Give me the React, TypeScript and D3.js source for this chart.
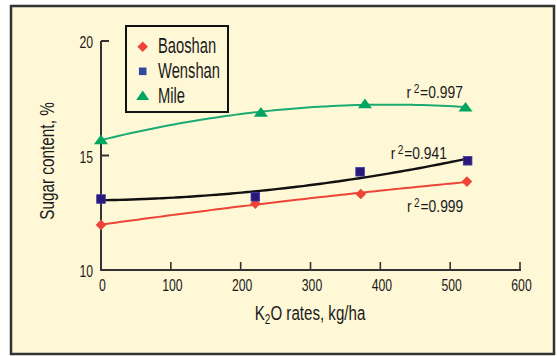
import React from 'react';
import * as d3 from 'd3';

// ---- Data ----
const baoshanRates = [0, 221, 372, 524];
const baoshanSugar = [11.97, 12.9, 13.32, 13.86];
const wenshanRates = [0, 221, 371, 525];
const wenshanSugar = [13.1, 13.2, 14.29, 14.77];
const mileRates = [0, 229, 378, 522];
const mileSugar = [15.68, 16.88, 17.25, 17.1];
const seriesNames = ['Baoshan', 'Wenshan', 'Mile'];
const r2Values = ['0.999', '0.941', '0.997'];
const xTicks = [0, 100, 200, 300, 400, 500, 600];
const yTicks = [10, 15, 20];

const W = 557;
const H = 356;
const BG = '#fef8d6';
const RED = '#ee4438';
const NAVY = '#2c1878';
const GREEN = '#00a562';
const FONT = '"Liberation Sans", Arial, sans-serif';

function quadFit(xs: number[], ys: number[]) {
  // least squares y = a + b x + c x^2
  const n = xs.length;
  let s0 = n, s1 = 0, s2 = 0, s3 = 0, s4 = 0, t0 = 0, t1 = 0, t2 = 0;
  for (let i = 0; i < n; i++) {
    const x = xs[i], y = ys[i];
    s1 += x; s2 += x * x; s3 += x * x * x; s4 += x * x * x * x;
    t0 += y; t1 += x * y; t2 += x * x * y;
  }
  const M = [
    [s0, s1, s2, t0],
    [s1, s2, s3, t1],
    [s2, s3, s4, t2],
  ];
  for (let i = 0; i < 3; i++) {
    let p = i;
    for (let r = i + 1; r < 3; r++) if (Math.abs(M[r][i]) > Math.abs(M[p][i])) p = r;
    [M[i], M[p]] = [M[p], M[i]];
    for (let r = 0; r < 3; r++) {
      if (r === i) continue;
      const f = M[r][i] / M[i][i];
      for (let c = i; c < 4; c++) M[r][c] -= f * M[i][c];
    }
  }
  const a = M[0][3] / M[0][0], b = M[1][3] / M[1][1], c = M[2][3] / M[2][2];
  return (x: number) => a + b * x + c * x * x;
}

function CText(props: {
  x: number; y: number; sx?: number; size: number; anchor?: string; rotate?: number; children: any; fill?: string;
}) {
  const { x, y, sx = 0.72, size, anchor = 'start', rotate = 0, children, fill = '#1a1a1a' } = props;
  return (
    <text
      transform={`translate(${x},${y}) rotate(${rotate}) scale(${sx},1)`}
      fontSize={size}
      fontFamily={FONT}
      textAnchor={anchor}
      fill={fill}
    >
      {children}
    </text>
  );
}

function Marker({ kind, x, y, small }: { kind: string; x: number; y: number; small?: boolean }) {
  if (kind === 'diamond') {
    const r = 5.3;
    return <path d={`M${x},${y - r}L${x + r},${y}L${x},${y + r}L${x - r},${y}Z`} fill={RED} />;
  }
  if (kind === 'square') {
    const r = small ? 3.8 : 4.3;
    return (
      <rect x={x - r} y={y - r} width={2 * r} height={2 * r}
        fill={small ? '#2f4aa0' : NAVY} stroke={small ? 'none' : '#3a3aa8'} strokeWidth={0.8} />
    );
  }
  const hw = small ? 6.5 : 7;
  return <path d={`M${x},${y - 5.5}L${x + hw},${y + 4.2}L${x - hw},${y + 4.2}Z`} fill={GREEN} />;
}

export default function App() {
  const x = d3.scaleLinear().domain([0, 600]).range([101, 520]);
  const y = d3.scaleLinear().domain([10, 20]).range([270, 41]);

  const series = [
    { name: seriesNames[0], xs: baoshanRates, ys: baoshanSugar, kind: 'diamond', line: RED, lw: 2 },
    { name: seriesNames[1], xs: wenshanRates, ys: wenshanSugar, kind: 'square', line: '#111111', lw: 2.4 },
    { name: seriesNames[2], xs: mileRates, ys: mileSugar, kind: 'triangle', line: '#1aaa72', lw: 2 },
  ];

  const lineGen = d3.line<number[]>().x((d) => x(d[0])).y((d) => y(d[1])).curve(d3.curveMonotoneX);

  const fits = series.map((s) => {
    const f = quadFit(s.xs, s.ys);
    const maxX = d3.max(s.xs) as number;
    const pts = d3.range(0, 61).map((i) => {
      const xv = (maxX * i) / 60;
      return [xv, f(xv)];
    });
    return lineGen(pts) as string;
  });

  // r^2 label placement relative to each series' last point
  const labelPos = [
    { dx: -60, dy: 30 },
    { dx: -77, dy: -2 },
    { dx: -59, dy: -9 },
  ];

  return (
    <svg width={W} height={H} style={{ position: 'absolute', left: 0, top: 0, background: '#ffffff' }}>
      <rect x={11} y={6} width={543} height={348} fill={BG} stroke="#333333" strokeWidth={2.5} />

      {/* axes */}
      <line x1={x(0)} x2={x(0)} y1={y(20)} y2={y(10)} stroke="#333" strokeWidth={2} />
      <line x1={x(0) - 1} x2={x(600) + 1} y1={y(10)} y2={y(10)} stroke="#333" strokeWidth={2} />
      {yTicks.filter((t) => t > 10).map((t) => (
        <line key={'yt' + t} x1={x(0)} x2={x(0) + 8} y1={y(t)} y2={y(t)} stroke="#333" strokeWidth={2} />
      ))}
      {xTicks.filter((t) => t > 0).map((t) => (
        <line key={'xt' + t} x1={x(t)} x2={x(t)} y1={y(10)} y2={y(10) - 8} stroke="#333" strokeWidth={1.6} />
      ))}
      {yTicks.map((t) => (
        <CText key={'yl' + t} x={93} y={y(t) + 7} size={17} anchor="end">{String(t)}</CText>
      ))}
      {xTicks.map((t) => (
        <CText key={'xl' + t} x={x(t) + 1.5} y={291} size={17} anchor="middle">{String(t)}</CText>
      ))}

      {/* axis titles */}
      <CText x={310} y={320} size={21} anchor="middle">
        K<tspan fontSize={14} dy={4}>2</tspan><tspan dy={-4}>O rates, kg/ha</tspan>
      </CText>
      <CText x={54} y={161} size={21} anchor="middle" rotate={-90} sx={0.73}>Sugar content, %</CText>

      {/* fit curves */}
      {series.map((s, i) => (
        <path key={'fit' + i} d={fits[i]} fill="none" stroke={s.line} strokeWidth={s.lw} />
      ))}

      {/* markers */}
      {series.map((s, i) =>
        s.xs.map((xv, j) => <Marker key={`m${i}-${j}`} kind={s.kind} x={x(xv)} y={y(s.ys[j])} />)
      )}

      {/* r^2 labels */}
      {series.map((s, i) => {
        const lx = x(s.xs[s.xs.length - 1]) + labelPos[i].dx;
        const ly = y(s.ys[s.ys.length - 1]) + labelPos[i].dy;
        return (
          <CText key={'r2' + i} x={lx} y={ly} size={16.5} sx={0.84}>
            r<tspan fontSize={12} dx={3} dy={-5}>2</tspan>
            <tspan dx={1} dy={5}>={r2Values[i]}</tspan>
          </CText>
        );
      })}

      {/* legend */}
      <rect x={126} y={26} width={102} height={86} fill={BG} stroke="#111" strokeWidth={2} />
      {series.map((s, i) => (
        <g key={'lg' + i}>
          <Marker kind={s.kind} x={142.7} y={46.7 + i * 24.6} small />
          <CText x={158} y={53.3 + i * 24.7} size={22} sx={0.67}>{s.name}</CText>
        </g>
      ))}
    </svg>
  );
}
